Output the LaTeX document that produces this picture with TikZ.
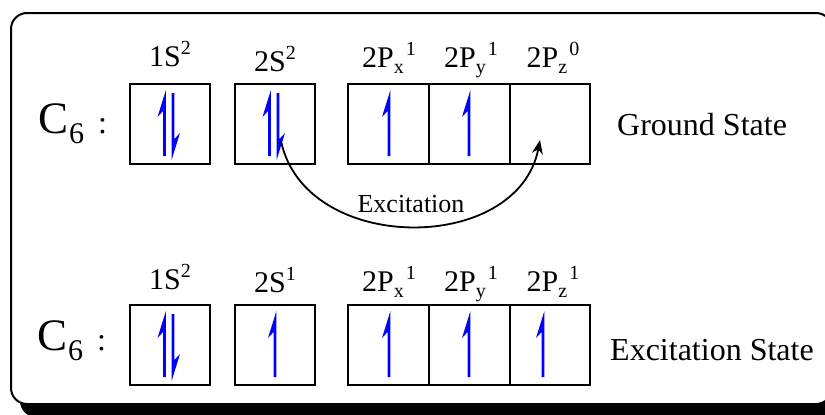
\documentclass[tikz,border=0pt]{standalone}
\usepackage{fontspec}
\setmainfont{Liberation Serif}
\usetikzlibrary{arrows.meta}

% raised / lowered small indices for the orbital labels
\newcommand\orbsup[1]{\raisebox{12pt}{\fontsize{20}{20}\selectfont #1}}
\newcommand\orbsub[1]{\raisebox{-6pt}{\fontsize{20}{20}\selectfont #1}}
\newcommand\carbon{{\fontsize{45}{45}\selectfont C}\hspace{1pt}\raisebox{-10pt}{\fontsize{30}{30}\selectfont 6}\hspace{14pt}{\fontsize{32}{32}\selectfont :}}

\tikzset{
  orbbox/.style={draw, line width=1.6pt, minimum width=80.5pt, minimum height=80pt, inner sep=0pt},
  orblabel/.style={anchor=base, inner sep=0pt, font=\fontsize{30}{30}\selectfont},
  statetext/.style={anchor=base west, inner sep=0pt, font=\fontsize{32}{32}\selectfont},
  spinup/.pic={
    \fill[blue] (1.4,32) -- (1.4,-34) -- (-7,-7) -- (-1.4,-13) -- (-1.4,32) -- cycle;
  },
  spindown/.pic={
    \fill[blue] (-1.4,-31) -- (-1.4,36) -- (7,9) -- (1.4,15) -- (1.4,-31) -- cycle;
  },
}

\begin{document}
\begin{tikzpicture}[x=1pt,y=-1pt]
\useasboundingbox (0,0) rectangle (825,415);

% framed panel with drop shadow
\fill[black, rounded corners=16pt] (20,24) rectangle (841,417);
\filldraw[fill=white, draw=black, line width=2pt, rounded corners=16pt] (11,13) rectangle (832,404);

% ---------- ground state ----------
\node[anchor=base west, inner sep=0pt] (cg) at (38,133) {\carbon};

\node[orbbox] (g1s) at (170,124) {};
\node[orbbox] (g2s) at (275,124) {};
\node[orbbox] (gpx) at (388.5,124) {};
\node[orbbox] (gpy) at (469.5,124) {};
\node[orbbox] (gpz) at (550,124) {};

\node[orblabel] (lg1s) at (170,66) {1S\orbsup{2}};
\node[orblabel] (lg2s) at (275,71) {2S\orbsup{2}};
\node[orblabel] (lgpx) at (389,67) {2P\orbsub{x}\hspace{2pt}\orbsup{1}};
\node[orblabel] (lgpy) at (471,67) {2P\orbsub{y}\hspace{2pt}\orbsup{1}};
\node[orblabel] (lgpz) at (553,67) {2P\orbsub{z}\hspace{2pt}\orbsup{0}};

\pic at (164.5,124) {spinup};
\pic at (173,124) {spindown};
\pic at (269.5,124) {spinup};
\pic at (278,124) {spindown};
\pic at (389,124) {spinup};
\pic at (469,124) {spinup};

\node[statetext] (gs) at (617,135) {Ground State};

% excitation of one 2s electron into the empty 2p_z orbital
\coordinate (exfrom) at (281,141);
\coordinate (exto) at (540,140);
\draw[line width=1.8pt, -{Stealth[length=14pt, width=11pt]}]
  (exfrom) .. controls (305,255) and (518,255) .. (exto);
\node[anchor=base, inner sep=0pt, font=\fontsize{26}{26}\selectfont] (exl) at (411,212) {Excitation};

% ---------- excited state ----------
\node[anchor=base west, inner sep=0pt] (ce) at (37,350) {\carbon};

\node[orbbox] (e1s) at (170,345) {};
\node[orbbox] (e2s) at (275,345) {};
\node[orbbox] (epx) at (388.5,345) {};
\node[orbbox] (epy) at (469.5,345) {};
\node[orbbox] (epz) at (550,345) {};

\node[orblabel] (le1s) at (170,289) {1S\orbsup{2}};
\node[orblabel] (le2s) at (275,292) {2S\orbsup{1}};
\node[orblabel] (lepx) at (389,291) {2P\orbsub{x}\hspace{2pt}\orbsup{1}};
\node[orblabel] (lepy) at (471,291) {2P\orbsub{y}\hspace{2pt}\orbsup{1}};
\node[orblabel] (lepz) at (553,291) {2P\orbsub{z}\hspace{2pt}\orbsup{1}};

\pic at (164.5,345) {spinup};
\pic at (173,345) {spindown};
\pic at (275,345) {spinup};
\pic at (389,345) {spinup};
\pic at (469,345) {spinup};
\pic at (543,345) {spinup};

\node[statetext] (es) at (610,360) {Excitation State};
\end{tikzpicture}
\end{document}
